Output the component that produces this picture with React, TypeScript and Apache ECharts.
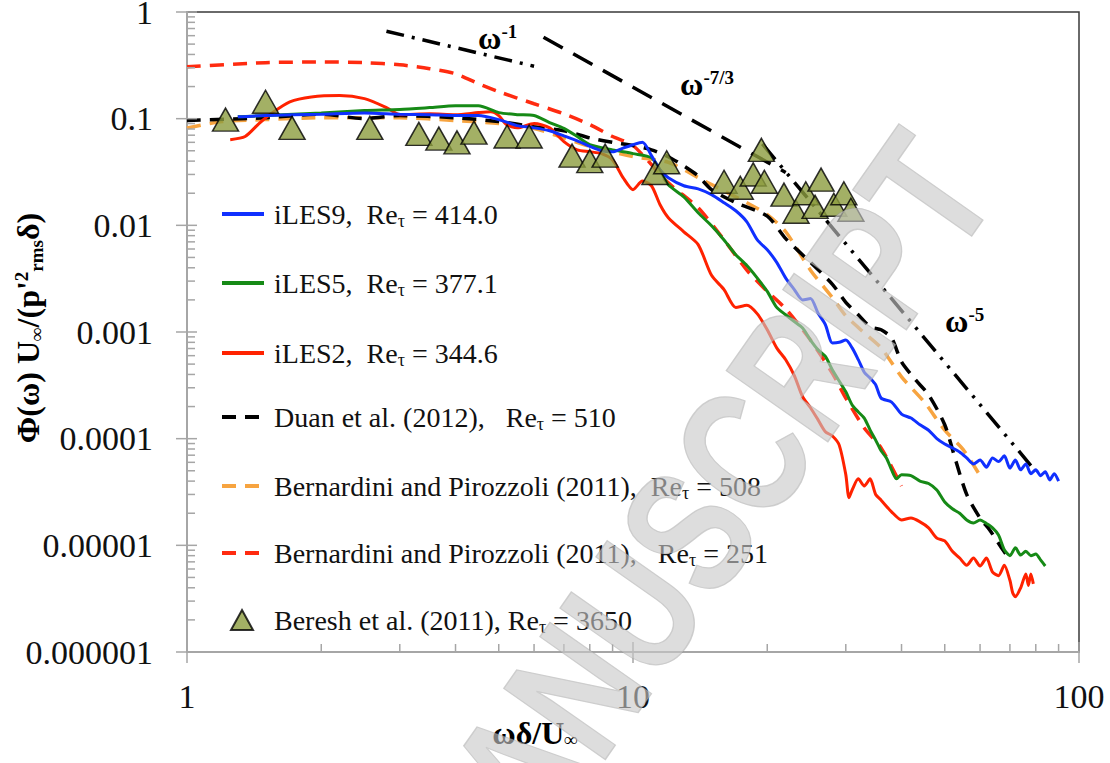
import React, { useEffect, useRef } from "react";
import * as echarts from "echarts";

// ---- axis labels ----
const xTickLabels = ["1", "10", "100"];
const yTickLabels = ["0.000001", "0.00001", "0.0001", "0.001", "0.01", "0.1", "1"];

// ---- spectra: [ωδ/U∞, Φ(ω)U∞/(p'²rms δ)] ----
const iles9 = [
  [1.3, 0.104], [1.5, 0.107], [2, 0.11], [2.5, 0.113], [3, 0.11], [3.5, 0.109], [4, 0.107], [4.5, 0.107],
  [5, 0.098], [5.5, 0.086], [6, 0.082], [6.5, 0.077], [7, 0.069], [7.5, 0.062], [8, 0.055], [8.5, 0.05],
  [9, 0.049], [9.5, 0.053], [10, 0.057], [10.5, 0.06], [11, 0.045], [11.5, 0.033], [12, 0.028], [13, 0.0235],
  [14, 0.022], [15, 0.0194], [16, 0.0163], [17, 0.0137], [18, 0.0108], [19, 0.0073], [20, 0.0059], [21, 0.0045],
  [22, 0.0032], [23, 0.0025], [24, 0.002], [25, 0.00206], [26, 0.0015], [27, 0.00117], [28, 0.00079], [29, 0.0008],
  [30, 0.00084], [31, 0.00071], [32, 0.00055], [33, 0.00042], [34, 0.00037], [35, 0.00032], [36, 0.00024],
  [38, 0.00022], [40, 0.00017], [42, 0.000156], [44, 0.000135], [46, 0.00012], [48, 0.0001], [50, 8.9e-5],
  [52, 8.2e-5], [54, 7.5e-5], [56, 6.6e-5], [58, 5.8e-5], [60, 6.3e-5], [62, 5.4e-5], [64, 6.6e-5], [66, 6.1e-5],
  [68, 6.9e-5], [70, 5.3e-5], [72, 6.3e-5], [74, 5.1e-5], [76, 5.8e-5], [78, 4.7e-5], [80, 5.1e-5], [82, 4.5e-5],
  [84, 4.9e-5], [86, 4.1e-5], [88, 4.7e-5], [90, 4.0e-5],
];

const iles5 = [
  [1.3, 0.104], [1.5, 0.107], [2, 0.113], [2.5, 0.119], [3, 0.122], [3.5, 0.127], [4, 0.132], [4.5, 0.132],
  [5, 0.114], [5.5, 0.109], [6, 0.107], [6.5, 0.092], [7, 0.081], [7.5, 0.068], [8, 0.057], [9, 0.051],
  [10, 0.047], [11, 0.043], [11.5, 0.033], [12, 0.024], [13, 0.0185], [14, 0.0131], [15, 0.0099], [16, 0.0073],
  [17, 0.0053], [18, 0.0042], [19, 0.0032], [20, 0.0024], [21, 0.0017], [22, 0.00145], [23, 0.00125], [24, 0.00109],
  [25, 0.00084], [26, 0.00068], [27, 0.00059], [28, 0.00044], [30, 0.000275], [31, 0.000207], [32, 0.000178],
  [33, 0.000156], [34, 0.000121], [35, 9.7e-5], [36, 7.7e-5], [37, 6.6e-5], [38, 5.1e-5], [39, 4.2e-5], [40, 4.6e-5],
  [42, 4.5e-5], [44, 4.0e-5], [46, 3.8e-5], [48, 3.3e-5], [50, 2.55e-5], [52, 2.2e-5], [54, 2.0e-5], [56, 1.73e-5],
  [58, 1.62e-5], [60, 1.73e-5], [62, 1.6e-5], [64, 1.46e-5], [66, 1.25e-5], [68, 9.1e-6], [70, 8.0e-6], [72, 9.5e-6],
  [74, 8.1e-6], [76, 8.8e-6], [78, 8.0e-6], [80, 8.3e-6], [82, 7.3e-6], [84, 6.4e-6],
];

const iles2 = [
  [1.25, 0.0635], [1.35, 0.068], [1.45, 0.09], [1.55, 0.113], [1.7, 0.144], [1.9, 0.16], [2.2, 0.165], [2.5, 0.154],
  [2.8, 0.127], [3, 0.109], [3.5, 0.111], [4, 0.109], [4.5, 0.114], [4.8, 0.116], [5, 0.107], [5.2, 0.088],
  [5.5, 0.082], [6, 0.09], [6.5, 0.082], [7, 0.061], [7.5, 0.051], [8, 0.049], [8.5, 0.047], [9, 0.041],
  [9.5, 0.028], [10, 0.0216], [10.5, 0.026], [11, 0.0235], [11.5, 0.0156], [12, 0.0118], [13, 0.0087], [14, 0.0066],
  [15, 0.0034], [16, 0.0025], [17, 0.0017], [18, 0.00178], [19, 0.00148], [20, 0.00105], [21, 0.00071], [22, 0.00055],
  [23, 0.00039], [24, 0.000247], [25, 0.000195], [26, 0.00015], [27, 0.000116], [28, 0.000106], [29, 8.7e-5],
  [30, 4.6e-5], [30.5, 2.8e-5], [31, 3.3e-5], [32, 4.2e-5], [33, 3.6e-5], [34, 4.2e-5], [35, 3.0e-5], [36, 2.65e-5],
  [38, 2.06e-5], [40, 1.73e-5], [42, 1.8e-5], [44, 1.66e-5], [46, 1.46e-5], [48, 1.17e-5], [50, 1.1e-5], [52, 8.8e-6],
  [54, 7.6e-6], [56, 6.5e-6], [58, 7.6e-6], [60, 6.4e-6], [62, 7.6e-6], [64, 5.6e-6], [66, 5.2e-6], [68, 6.5e-6],
  [70, 4.7e-6], [71, 3.6e-6], [72, 3.3e-6], [74, 4.0e-6], [76, 5.4e-6], [77, 4.2e-6], [78, 5.4e-6], [79, 4.35e-6],
];

const duan2012 = [
  [1, 0.096], [1.5, 0.102], [2, 0.11], [2.5, 0.1], [3, 0.107], [4, 0.102], [5, 0.094], [6, 0.084], [7, 0.077],
  [8, 0.066], [9, 0.06], [10, 0.056], [11, 0.051], [12, 0.044], [13, 0.036], [14, 0.029], [15, 0.0216], [17, 0.0163],
  [20, 0.0122], [22, 0.0075], [25, 0.0045], [28, 0.0028], [30, 0.0019], [32, 0.00145], [34, 0.00112], [36, 0.00105],
  [38, 0.00088], [40, 0.000525], [43, 0.000356], [46, 0.000258], [50, 0.000135], [53, 6.1e-5], [56, 3.0e-5],
  [60, 1.8e-5], [63, 1.4e-5], [67, 9.5e-6], [70, 7.3e-6],
];

const bp508 = [
  [1, 0.082], [1.2, 0.094], [1.5, 0.098], [2, 0.102], [3, 0.102], [4, 0.096], [5, 0.09], [6, 0.081], [7, 0.066],
  [8, 0.055], [10, 0.044], [12, 0.039], [14, 0.028], [16, 0.021], [18, 0.0163], [20, 0.0126], [22, 0.0087],
  [25, 0.0038], [28, 0.0021], [30, 0.00142], [33, 0.00098], [36, 0.00071], [40, 0.00038], [45, 0.00022],
  [50, 0.00012], [55, 7.9e-5], [60, 4.5e-5],
];

const bp251 = [
  [1, 0.307], [1.5, 0.335], [2, 0.34], [2.5, 0.335], [3, 0.32], [3.5, 0.294], [4, 0.264], [4.5, 0.213], [5, 0.179],
  [6, 0.138], [7, 0.111], [8, 0.088], [9, 0.068], [10, 0.056], [12, 0.025], [14, 0.0146], [16, 0.0073], [18, 0.0038],
  [20, 0.0024], [22, 0.00165], [25, 0.00084], [28, 0.00041], [30, 0.00024], [33, 0.000126], [36, 8.2e-5], [40, 3.6e-5],
];

const beresh2011 = [
  [1.22, 0.098], [1.5, 0.144], [1.72, 0.082], [2.57, 0.082], [3.31, 0.072], [3.67, 0.065], [4.03, 0.06], [4.4, 0.074],
  [5.22, 0.068], [5.85, 0.068], [7.3, 0.045], [8.0, 0.04], [8.66, 0.045], [11.2, 0.031], [11.9, 0.039], [16.0, 0.0256],
  [17.4, 0.0225], [18.6, 0.03], [19.4, 0.051], [19.7, 0.0256], [21.8, 0.0194], [23.2, 0.0134], [24.4, 0.02],
  [25.6, 0.0149], [26.4, 0.0268], [28.2, 0.0156], [29.7, 0.02], [30.8, 0.014],
];

// ---- power-law guide lines ----
const slopeMinus1 = [[2.8, 0.66], [6.0, 0.31]];
const slopeMinus73 = [[6.3, 0.58], [22, 0.0313]];
const slopeMinus5 = [[19.5, 0.058], [78, 5.6e-5]];

const legendText: Record<string, string> = {
  iLES9: "{t|iLES9,  Re}{s|τ}{t| = 414.0}",
  iLES5: "{t|iLES5,  Re}{s|τ}{t| = 377.1}",
  iLES2: "{t|iLES2,  Re}{s|τ}{t| = 344.6}",
  Duan: "{t|Duan et al. (2012),   Re}{s|τ}{t| = 510}",
  BP508: "{t|Bernardini and Pirozzoli (2011),  Re}{s|τ}{t| = 508}",
  BP251: "{t|Bernardini and Pirozzoli (2011),   Re}{s|τ}{t| = 251}",
  Beresh: "{t|Beresh et al. (2011), Re}{s|τ}{t| = 3650}",
};
const legendRows = [
  { name: "iLES9", y: 211 },
  { name: "iLES5", y: 280 },
  { name: "iLES2", y: 350 },
  { name: "Duan", y: 414 },
  { name: "BP508", y: 483 },
  { name: "BP251", y: 550 },
  { name: "Beresh", y: 617 },
];

const SERIF = "'Liberation Serif', 'Times New Roman', serif";

function buildTicks() {
  const out: number[][] = [];
  // x-axis: kind 0 minor, 1 major
  for (let d = 0; d < 2; d++) {
    const base = Math.pow(10, d);
    out.push([base, 1e-6, 1]);
    for (let m = 2; m <= 9; m++) out.push([m * base, 1e-6, 0]);
  }
  out.push([100, 1e-6, 1]);
  // y-axis: kind 2 minor, 3 major
  for (let d = -6; d < 0; d++) {
    const base = Math.pow(10, d);
    out.push([1, base, 3]);
    for (let m = 2; m <= 9; m++) out.push([1, m * base, 2]);
  }
  out.push([1, 1, 3]);
  return out;
}

export default function App() {
  const ref = useRef<HTMLDivElement>(null);

  useEffect(() => {
    if (!ref.current) return;
    const chart = echarts.init(ref.current, undefined, { renderer: "svg" });

    const lineSeries = (name: string, data: number[][], color: string, dashed: boolean, width: number) => ({
      name,
      type: "line",
      data,
      symbol: "none",
      smooth: 0.25,
      clip: true,
      z: 3,
      lineStyle: { color, width, type: dashed ? [14, 9] : "solid" },
      itemStyle: { color },
    });

    const guide = (data: number[][], dash: number[]) => ({
      type: "line",
      data,
      symbol: "none",
      z: 2,
      silent: true,
      lineStyle: { color: "#000", width: 3.5, type: dash },
    });

    const sup = { fontFamily: SERIF, fontWeight: "bold", fontSize: 19, padding: [0, 0, 14, 0], color: "#000" };
    const big = { fontFamily: SERIF, fontWeight: "bold", fontSize: 32, color: "#000" };

    const option: any = {
      animation: false,
      backgroundColor: "#fff",
      grid: {
        left: 187, right: 31, top: 12, bottom: 111,
        show: true, borderColor: "#3a3a3a", borderWidth: 1.5,
        containLabel: false, outerBoundsMode: "none",
      },
      xAxis: {
        type: "log", logBase: 10, min: 1, max: 100,
        axisLine: { show: true, lineStyle: { color: "#a6a6a6", width: 2 } },
        axisTick: { show: false },
        splitLine: { show: false },
        axisLabel: {
          margin: 27, fontFamily: SERIF, fontSize: 34, color: "#111",
          formatter: (v: number) => xTickLabels[Math.round(Math.log10(v))],
        },
      },
      yAxis: {
        type: "log", logBase: 10, min: 1e-6, max: 1,
        axisLine: { show: true, lineStyle: { color: "#a6a6a6", width: 2 } },
        axisTick: { show: false },
        splitLine: { show: false },
        axisLabel: {
          margin: 34, fontFamily: SERIF, fontSize: 34, color: "#111",
          formatter: (v: number) => yTickLabels[Math.round(Math.log10(v)) + 6],
        },
      },
      legend: legendRows.map((r) => {
        const isTri = r.name === "Beresh";
        return {
          data: [r.name],
          left: isTri ? 225 : 215,
          top: r.y - 16,
          orient: "vertical",
          selectedMode: false,
          itemWidth: isTri ? 22 : 42,
          itemHeight: isTri ? 20 : 14,
          itemStyle: isTri ? {} : { opacity: 0 },
          lineStyle: { width: 4 },
          formatter: (n: string) => legendText[n],
          textStyle: {
            fontFamily: SERIF, fontSize: 28, color: "#111",
            padding: [0, 0, 0, isTri ? 16 : 5],
            rich: {
              t: { fontFamily: SERIF, fontSize: 28, color: "#111" },
              s: { fontFamily: SERIF, fontSize: 18, color: "#111", padding: [14, 0, 0, 0] },
            },
          },
        };
      }),
      graphic: [
        {
          type: "text", x: 28, y: 328, rotation: Math.PI / 2, z: 10,
          style: {
            text: "{b|Φ(ω) U}{sub|∞}{b|/(p'}{sup|2}{sub|rms}{b|δ)}",
            align: "center", verticalAlign: "middle",
            rich: {
              b: big,
              sub: { ...big, fontSize: 19, padding: [16, 0, 0, 0] },
              sup: { ...big, fontSize: 19, padding: [0, 0, 14, 0] },
            },
          },
        },
        {
          type: "text", x: 535, y: 733, z: 10,
          style: {
            text: "{b|ωδ/U}{sub|∞}",
            align: "center", verticalAlign: "middle",
            rich: { b: big, sub: { ...big, fontSize: 19, padding: [12, 0, 0, 0] } },
          },
        },
        {
          type: "text", x: 478, y: 38, z: 10,
          style: { text: "{b|ω}{p|-1}", align: "left", verticalAlign: "middle", rich: { b: big, p: sup } },
        },
        {
          type: "text", x: 680, y: 84, z: 10,
          style: { text: "{b|ω}{p|-7/3}", align: "left", verticalAlign: "middle", rich: { b: big, p: sup } },
        },
        {
          type: "text", x: 945, y: 321, z: 10,
          style: { text: "{b|ω}{p|-5}", align: "left", verticalAlign: "middle", rich: { b: big, p: sup } },
        },
        {
          type: "text", x: 950, y: 158, z: 50, rotation: 0.96, scaleX: 0.76,
          silent: true,
          style: {
            text: "ACCEPTED MANUSCRIPT",
            align: "right", verticalAlign: "middle",
            fontFamily: "'Liberation Sans', Arial, sans-serif", fontWeight: "bold", fontSize: 180,
            fill: "rgba(200,200,200,0.62)",
            stroke: "rgba(150,150,150,0.45)", lineWidth: 1.5,
            shadowColor: "rgba(0,0,0,0.28)", shadowBlur: 6, shadowOffsetX: 3, shadowOffsetY: 3,
          },
        },
      ],
      series: [
        {
          type: "custom",
          silent: true,
          clip: false,
          z: 6,
          data: buildTicks(),
          encode: { x: 0, y: 1 },
          renderItem: (_p: any, api: any) => {
            const pt = api.coord([api.value(0), api.value(1)]);
            const k = api.value(2);
            let shape;
            if (k === 0) shape = { x1: pt[0], y1: pt[1], x2: pt[0], y2: pt[1] - 8 };
            else if (k === 1) shape = { x1: pt[0], y1: pt[1] - 10, x2: pt[0], y2: pt[1] + 11 };
            else if (k === 2) shape = { x1: pt[0], y1: pt[1], x2: pt[0] + 8, y2: pt[1] };
            else shape = { x1: pt[0] - 11, y1: pt[1], x2: pt[0] + 10, y2: pt[1] };
            return { type: "line", shape, style: { stroke: "#a6a6a6", lineWidth: 1.5 } };
          },
        },
        guide(slopeMinus1, [18, 8, 3, 8]),
        guide(slopeMinus73, [22, 12]),
        guide(slopeMinus5, [20, 8, 3, 8, 3, 8]),
        lineSeries("BP251", bp251, "#ff2b10", true, 3.5),
        lineSeries("BP508", bp508, "#f7a440", true, 3.5),
        lineSeries("Duan", duan2012, "#000000", true, 3.5),
        lineSeries("iLES2", iles2, "#ff2200", false, 3),
        lineSeries("iLES5", iles5, "#168a16", false, 3),
        lineSeries("iLES9", iles9, "#1030ff", false, 3),
        {
          name: "Beresh",
          type: "scatter",
          data: beresh2011,
          symbol: "triangle",
          symbolSize: [26, 23],
          z: 8,
          itemStyle: { color: "#8c9c3e", borderColor: "#000", borderWidth: 1.5 },
        },
      ],
    };

    chart.setOption(option);
    return () => chart.dispose();
  }, []);

  return <div ref={ref} style={{ position: "fixed", left: 0, top: 0, width: 1110, height: 763 }} />;
}
